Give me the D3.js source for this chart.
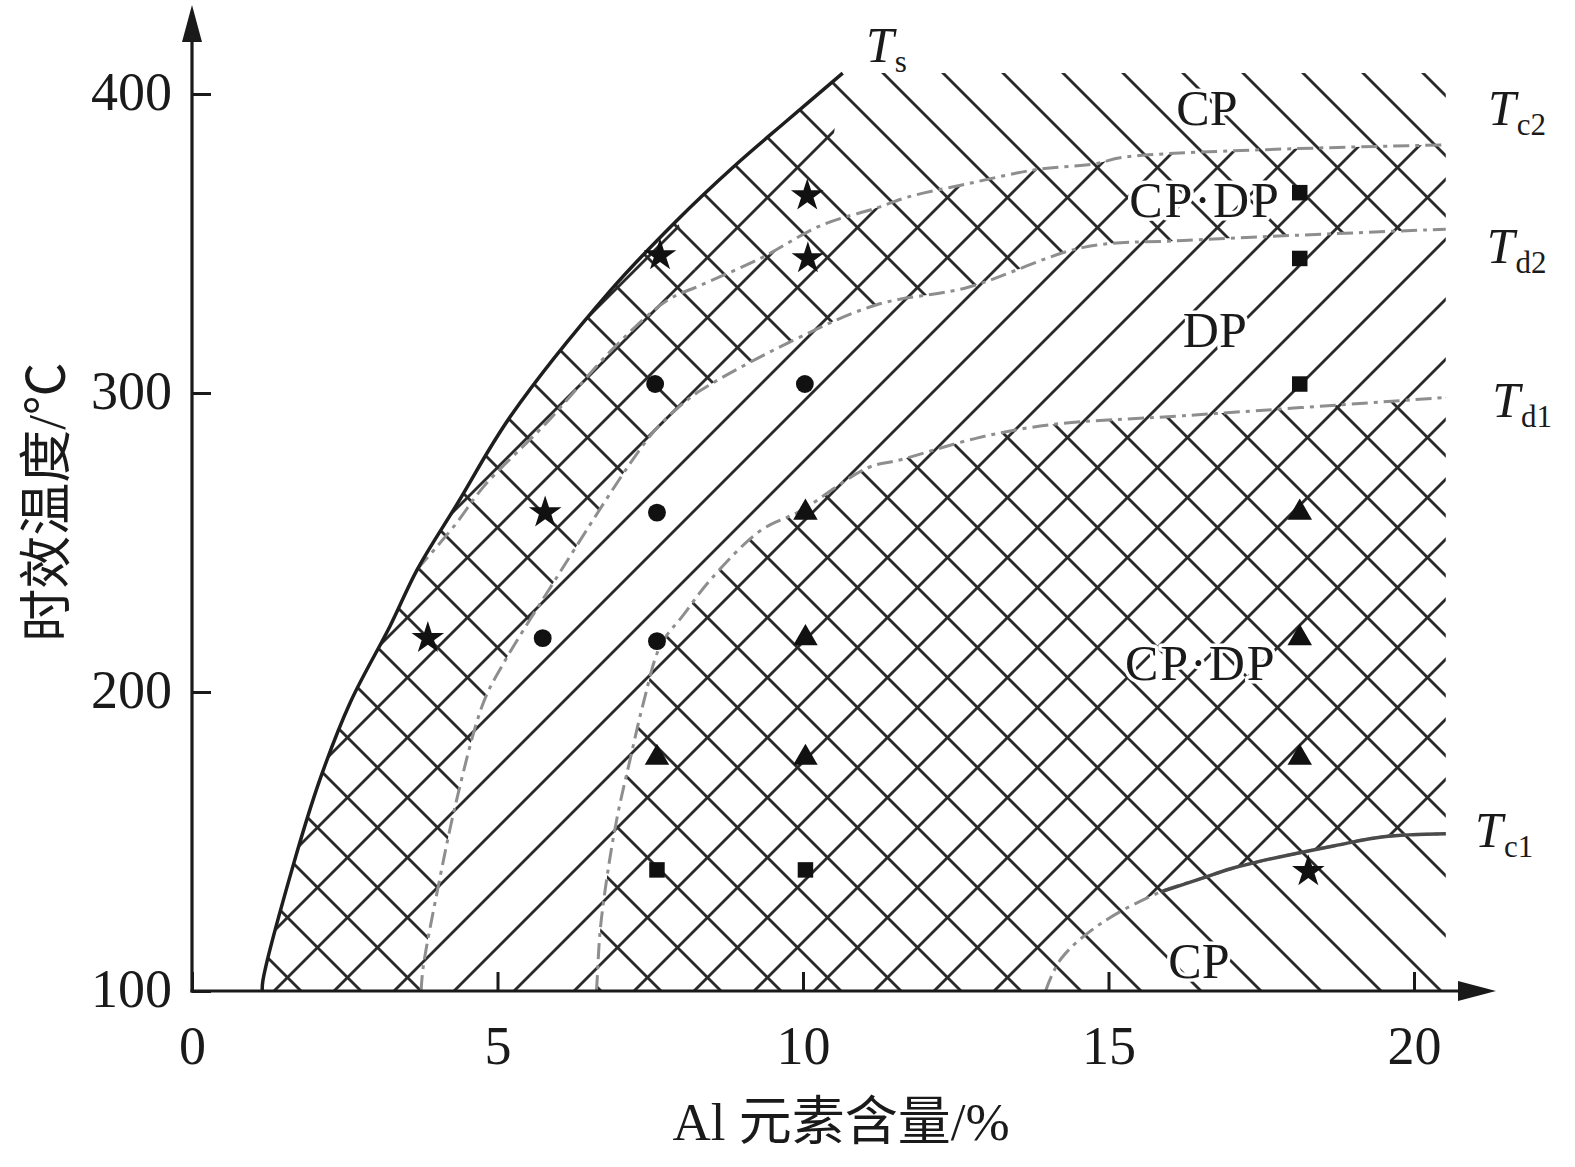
<!DOCTYPE html>
<html><head><meta charset="utf-8">
<script src="https://cdn.jsdelivr.net/npm/d3@7"></script>
<style>
body{margin:0;background:#fff}
text{font-family:"Liberation Serif","Times New Roman","Noto Sans CJK SC",serif;fill:#1a1a1a}
</style>
</head><body>
<svg id="c" width="1575" height="1167" xmlns="http://www.w3.org/2000/svg"></svg>
<script>
// ---------------- data ----------------
const xTicks=[0,5,10,15,20];
const yTicks=[100,200,300,400];
const xTitle="Al 元素含量/%";
const yTitle="时效温度/℃";
// solvus Ts (Al %, °C), bottom -> top
const tsCurve=[[1.15,100],[1.16,103.4],[1.65,141.6],[2.10,171.1],[2.59,196.5],[3.24,222],[3.69,241.1],[4.34,262.9],[5.21,292.1],[6.85,334.3],[7.94,357.8],[8.86,375.6],[9.75,391.3],[10.65,407]];
// Tc2 boundary, from solvus to right edge
const tc2Curve=[[3.69,241.1],[4.31,256],[4.77,268.6],[5.8,290],[6.9,315],[7.78,331],[8.32,336],[9.3,345],[10.29,356],[11.22,362],[11.71,365.5],[12.7,370],[13.78,374.6],[14.76,376.6],[15.3,379],[20.52,383]];
// Td2 boundary, bottom -> right edge
const td2Curve=[[3.75,100],[3.78,107.4],[4.01,132.9],[4.34,164.7],[4.77,196.5],[5.09,209.3],[5.86,234.8],[7.50,285.7],[7.94,294.8],[8.32,300.8],[9.84,317.6],[11.22,329.6],[12.69,335.3],[14.59,348.7],[16.23,351],[20.52,354.8]];
// Td1 boundary, bottom -> right edge
const td1Curve=[[6.62,100],[6.63,103.4],[6.68,120.1],[6.80,139.2],[6.96,158.3],[7.17,177.4],[7.39,196.5],[7.67,215.7],[8.04,225.7],[8.48,237.4],[9.30,253.9],[9.96,260.6],[11.06,275.0],[11.6,277.7],[12.86,285.0],[14.05,289.4],[16.23,292.4],[20.52,298.5]];
// Tc1 boundary, bottom -> right edge
const tc1Curve=[[13.97,100],[14.22,110.7],[14.87,122.5],[15.86,133.2],[16.5,137.5],[17.0,140.9],[17.44,143.2],[18.7,148.6],[19.5,151.6],[20.52,152.6]];
const alMax=20.52, tTop=407, tBottom=100;
// measured samples
const sampleAl=[3.86,5.78,5.74,7.66,7.58,7.61,7.61,7.61,7.61,10.07,10.08,10.03,10.04,10.04,10.04,10.04,18.13,18.13,18.13,18.13,18.13,18.13,18.27];
const sampleT =[218,260,218,346,303,260,217,178,140.5,366,345,303,260,218,178,140.5,367,345,303,260,218,178,140];
const sampleMark=["star","star","dot","star","dot","dot","dot","triangle","square","star","star","dot","triangle","triangle","triangle","square","square","square","square","triangle","triangle","triangle","star"];
const phaseNames=["CP","CP·DP","DP","CP·DP","CP"];
const lineNames=[["T","s"],["T","c2"],["T","d2"],["T","d1"],["T","c1"]];

// ---------------- drawing ----------------
const svg=d3.select("#c");
const x=d3.scaleLinear().domain([0,20]).range([192,1414]);
const y=d3.scaleLinear().domain([100,400]).range([991,94]);
const curve=d3.line().x(d=>x(d[0])).y(d=>y(d[1])).curve(d3.curveCatmullRom.alpha(0.5));
function joinPath(parts){
  let s="";
  parts.forEach((pts,i)=>{
    let d=pts.length>1?curve(pts):`M${x(pts[0][0])},${y(pts[0][1])}`;
    if(i>0) d="L"+d.slice(1);
    s+=d;
  });
  return s+"Z";
}
const defs=svg.append("defs");
const INK="#2a2a2a", SW=2.8;
function slashPattern(id,T,a){
  const p=defs.append("pattern").attr("id",id).attr("patternUnits","userSpaceOnUse").attr("width",T).attr("height",T);
  for(let k=-1;k<=2;k++){const c=a+T*k;
    p.append("line").attr("x1",c+5).attr("y1",-5).attr("x2",c-T-5).attr("y2",T+5).attr("stroke",INK).attr("stroke-width",SW);}
}
function backPattern(id,T,b){
  const p=defs.append("pattern").attr("id",id).attr("patternUnits","userSpaceOnUse").attr("width",T).attr("height",T);
  for(let k=-2;k<=1;k++){const c=b+T*k;
    p.append("line").attr("x1",c-5).attr("y1",-5).attr("x2",c+T+5).attr("y2",T+5).attr("stroke",INK).attr("stroke-width",SW);}
}
slashPattern("sl",60,5);
slashPattern("slSparse",120,5);
backPattern("bs",60,30);

// split points for the sparse strip along the upper solvus
const iTsP=tsCurve.findIndex(d=>d[0]>=7.94);
const iTcA=tc2Curve.findIndex(d=>d[0]>=8.32);
const iTcB=tc2Curve.findIndex(d=>d[0]>=10.29);

// "\" hatch: everything except DP band
svg.append("path").attr("d",joinPath([tsCurve,[[alMax,tTop]],td2Curve.slice().reverse()])).attr("fill","url(#bs)");
svg.append("path").attr("d",joinPath([td1Curve,[[alMax,tBottom]]])).attr("fill","url(#bs)");
// "/" hatch: below Ts/Tc2 and above Tc1
svg.append("path").attr("d",joinPath([tsCurve.slice(0,iTsP+1),tc2Curve.slice(iTcA),tc1Curve.slice().reverse()])).attr("fill","url(#sl)");
// sparse "/" in the strip along the upper solvus
svg.append("path").attr("d",joinPath([tc2Curve.slice(iTcA,iTcB+1),tsCurve.slice(iTsP).reverse()])).attr("fill","url(#slSparse)");

// phase boundaries
const dash="16,6,4,6";
[tc2Curve,td2Curve,td1Curve,tc1Curve].forEach(c=>{
  svg.append("path").attr("d",curve(c)).attr("fill","none").attr("stroke","#8e8e8e").attr("stroke-width",3).attr("stroke-dasharray",dash);
});
svg.append("path").attr("d",curve(tc1Curve.filter(d=>d[0]>=15.86))).attr("fill","none").attr("stroke","#4a4a4a").attr("stroke-width",3.5);
// solvus
svg.append("path").attr("d",curve(tsCurve)).attr("fill","none").attr("stroke","#1e1e1e").attr("stroke-width",3.5);

// sample markers
const symType={star:d3.symbolStar,dot:d3.symbolCircle,square:d3.symbolSquare,triangle:d3.symbolTriangle};
const symSize={star:330,dot:250,square:240,triangle:260};
sampleAl.forEach((a,i)=>{
  const m=sampleMark[i];
  svg.append("path").attr("d",d3.symbol().type(symType[m]).size(symSize[m])())
    .attr("transform",`translate(${x(a)},${y(sampleT[i])})`).attr("fill","#111");
});

// phase labels
const phasePos=[[16.61,389.6],[16.58,358.9],[16.74,315.4],[16.51,204.0],[16.48,104.3]];
phaseNames.forEach((n,i)=>{
  svg.append("text").attr("x",x(phasePos[i][0])).attr("y",y(phasePos[i][1])).attr("text-anchor","middle")
   .attr("font-size",50).attr("letter-spacing",n.length>2?2:0)
   .attr("stroke","#fff").attr("stroke-width",7).attr("paint-order","stroke").attr("stroke-linejoin","round").text(n);
});
// boundary labels
const linePos=[[11.03,410.7],[21.21,389.6],[21.19,343.5],[21.28,292.0],[21.0,148.2]];
lineNames.forEach((n,i)=>{
  const t=svg.append("text").attr("x",x(linePos[i][0])).attr("y",y(linePos[i][1])).attr("font-size",50);
  t.append("tspan").attr("font-style","italic").text(n[0]);
  t.append("tspan").attr("font-size",31).attr("dy",10).attr("dx",1).text(n[1]);
});

// axes
const gy=svg.append("g").attr("transform",`translate(${x(0)},0)`)
  .call(d3.axisLeft(y).tickValues(yTicks).tickSizeInner(-19).tickSizeOuter(0).tickPadding(20).tickFormat(d3.format("d")));
const gx=svg.append("g").attr("transform",`translate(0,${y(100)})`)
  .call(d3.axisBottom(x).tickValues(xTicks).tickSizeInner(-19).tickSizeOuter(0).tickPadding(35).tickFormat(d3.format("d")));
[gx,gy].forEach(g=>{
  g.select(".domain").remove();
  g.attr("font-family",null).attr("font-size",null);
  g.selectAll(".tick line").attr("stroke","#1a1a1a").attr("stroke-width",3);
  g.selectAll(".tick text").attr("font-size",54).attr("fill","#1a1a1a");
});
gy.selectAll(".tick text").attr("dy","0.28em");
// axis lines with arrows
const x0=x(0), y0=y(100);
svg.append("line").attr("x1",x0).attr("y1",y0+1.5).attr("x2",x0).attr("y2",40).attr("stroke","#1a1a1a").attr("stroke-width",3.2);
svg.append("path").attr("d",`M${x0},5L${x0-10},42L${x0+10},42Z`).attr("fill","#1a1a1a");
svg.append("line").attr("x1",x0-1.5).attr("y1",y0).attr("x2",1460).attr("y2",y0).attr("stroke","#1a1a1a").attr("stroke-width",3.2);
svg.append("path").attr("d",`M1496,${y0}L1458,${y0-10}L1458,${y0+10}Z`).attr("fill","#1a1a1a");

// axis titles
svg.append("text").attr("x",841).attr("y",1140).attr("text-anchor","middle").attr("font-size",53).text(xTitle);
svg.append("text").attr("transform","translate(47,502) rotate(-90)").attr("text-anchor","middle")
  .attr("dominant-baseline","central").attr("font-size",53).text(yTitle);
</script>
</body></html>
